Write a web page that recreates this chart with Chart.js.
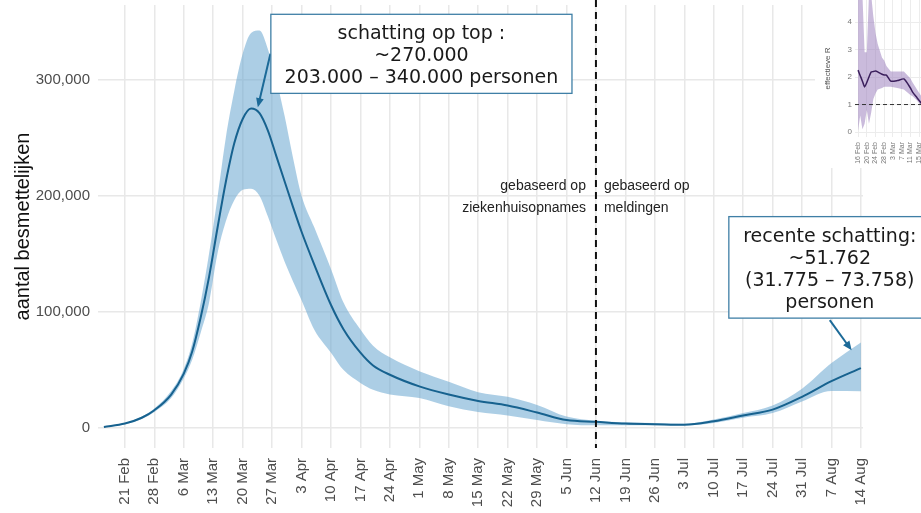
<!DOCTYPE html>
<html>
<head>
<meta charset="utf-8">
<script src="https://cdn.jsdelivr.net/npm/chart.js@4.4.1/dist/chart.umd.min.js"></script>
<style>
html, body { margin: 0; padding: 0; background: #fff; overflow: hidden; }
#wrap { position: relative; width: 921px; height: 513px; overflow: hidden; }
#hoofd { position: absolute; left: 0; top: 0; width: 921px; height: 513px; }
#klein { position: absolute; left: 815px; top: 0; width: 150px; height: 168px; background: #fff; }
</style>
</head>
<body>
<div id="wrap">
  <div id="hoofd"><canvas id="hoofdgrafiek"></canvas></div>
  <div id="klein"><canvas id="rgrafiek"></canvas></div>
</div>
<script>
// Data hoofdgrafiek: geschat aantal besmettelijke personen (2020)

var datums = ['2020-02-16','2020-02-21','2020-02-25','2020-02-28','2020-03-03','2020-03-06','2020-03-08',
  '2020-03-10','2020-03-12','2020-03-14','2020-03-16','2020-03-18','2020-03-20','2020-03-22','2020-03-24',
  '2020-03-26','2020-03-28','2020-03-30','2020-04-01','2020-04-03','2020-04-06','2020-04-10','2020-04-13',
  '2020-04-17','2020-04-20','2020-04-24','2020-05-01','2020-05-08','2020-05-15','2020-05-22','2020-05-29',
  '2020-06-05','2020-06-12','2020-06-19','2020-06-26','2020-07-03','2020-07-10','2020-07-17','2020-07-24',
  '2020-07-31','2020-08-07','2020-08-14'];
var schatting = [1000,4000,9000,15500,29000,47000,66000,95000,130000,172000,212000,245000,266000,275000,
  271000,256000,234000,212000,190000,169000,141000,106000,85000,65000,54000,46000,36000,29000,23500,19500,
  13500,7000,5500,4000,3500,3000,6000,11000,16000,27000,40500,51762];
var ondergrens = [800,3500,8000,14000,26000,43000,59000,82000,108000,150000,178000,196000,205000,206000,
  200000,182000,162000,143000,126000,110000,85000,65000,50000,39000,33000,29000,26000,19000,14000,11000,
  7000,3500,2500,2500,2500,2500,4500,9000,13000,23000,32000,31775];
var bovengrens = [1200,4500,10000,17000,32000,51000,73000,108000,150000,198000,250000,290000,322000,340000,
  342000,326000,300000,268000,232000,200000,173000,137000,108000,85000,71000,61000,49000,40000,31000,27000,
  20000,10000,6500,5000,4500,3800,7500,13000,19500,34000,56000,73758];

var weekLabels = ['21 Feb','28 Feb','6 Mar','13 Mar','20 Mar','27 Mar','3 Apr','10 Apr','17 Apr','24 Apr',
  '1 May','8 May','15 May','22 May','29 May','5 Jun','12 Jun','19 Jun','26 Jun','3 Jul','10 Jul','17 Jul',
  '24 Jul','31 Jul','7 Aug','14 Aug'];
var yWaarden = [0, 100000, 200000, 300000];
var scheiding = '2020-06-12';

// Data inzet: effectieve R
var rDagen = [0,1,2,3,4,5,6,7,8,9,11,12,13,15,18,21,24,25,27,29,31];
var rSchatting = [2.25,2.05,1.85,1.64,1.8,2.0,2.18,2.2,2.22,2.19,2.1,2.07,2.07,1.85,1.87,1.93,1.6,1.45,1.25,1.05,0.85];
var rBoven = [5,5,5,2.9,2.9,5,5,4.2,3.6,3.2,2.7,2.6,2.4,2.2,2.2,2.2,1.95,1.8,1.55,1.3,1.1];
var rOnder = [0.05,0.6,0.1,0.3,0.8,0.3,0.7,1.2,1.4,1.55,1.6,1.65,1.65,1.65,1.6,1.55,1.35,1.3,1.15,0.95,0.8];
var rLabels = ['16 Feb','20 Feb','24 Feb','28 Feb','3 Mar','7 Mar','11 Mar','15 Mar','19 Mar'];


Chart.defaults.font.family = "'Liberation Sans', Arial, sans-serif";
Chart.defaults.color = '#4d4d4d';

var start = Date.UTC(2020, 1, 21);
const dag = (s) => {
  var p = s.split('-');
  return (Date.UTC(+p[0], +p[1] - 1, +p[2]) - start) / 86400000;
};

const punten = (arr) => datums.map((d, i) => ({ x: dag(d), y: arr[i] }));

// vaste maat voor de as, zonder extra ruimte boven/onder
const vasteBreedte = (w) => (s) => { s.width = w; s.paddingTop = 0; s.paddingBottom = 0; };
const vasteHoogte = (h) => (s) => { s.height = h; s.paddingLeft = 0; s.paddingRight = 0; };

const pijl = (ctx, x1, y1, x2, y2, kleur) => {
  var hoek = Math.atan2(y2 - y1, x2 - x1);
  ctx.save();
  ctx.strokeStyle = kleur; ctx.fillStyle = kleur; ctx.lineWidth = 2;
  ctx.beginPath(); ctx.moveTo(x1, y1);
  ctx.lineTo(x2 - 6 * Math.cos(hoek), y2 - 6 * Math.sin(hoek)); ctx.stroke();
  ctx.beginPath(); ctx.moveTo(x2, y2);
  ctx.lineTo(x2 - 10 * Math.cos(hoek - 0.4), y2 - 10 * Math.sin(hoek - 0.4));
  ctx.lineTo(x2 - 10 * Math.cos(hoek + 0.4), y2 - 10 * Math.sin(hoek + 0.4));
  ctx.closePath(); ctx.fill();
  ctx.restore();
};

const tekstBlok = (ctx, sx, sy, x1, y1, x2, y2, regels) => {
  var l = sx.getPixelForValue(x1), r = sx.getPixelForValue(x2);
  var t = sy.getPixelForValue(y1), b = sy.getPixelForValue(y2);
  ctx.save();
  ctx.fillStyle = '#fff';
  ctx.fillRect(l, t, r - l, b - t);
  ctx.strokeStyle = '#3f7fa6'; ctx.lineWidth = 1.3;
  ctx.strokeRect(l, t, r - l, b - t);
  ctx.fillStyle = '#1a1a1a';
  ctx.font = "19px 'DejaVu Sans', Verdana, sans-serif";
  ctx.textAlign = 'center'; ctx.textBaseline = 'middle';
  regels.forEach((s, i) => ctx.fillText(s, (l + r) / 2, t + 20 + i * 22));
  ctx.restore();
};

// lijn bij 12 juni, teksten, kaders en pijlen
const aantekeningen = {
  id: 'aantekeningen',
  afterDatasetsDraw(chart) {
    var ctx = chart.ctx, sx = chart.scales.x, ca = chart.chartArea;
    var x = sx.getPixelForValue(dag(scheiding));
    ctx.save();
    ctx.strokeStyle = '#111'; ctx.lineWidth = 2; ctx.setLineDash([7, 5]);
    ctx.beginPath(); ctx.moveTo(x, 0); ctx.lineTo(x, ca.bottom); ctx.stroke();
    ctx.restore();
  },
  afterDraw(chart) {
    var ctx = chart.ctx, sx = chart.scales.x, sy = chart.scales.y;
    var x = sx.getPixelForValue(dag(scheiding));

    ctx.save();
    ctx.fillStyle = '#222';
    ctx.font = "14px 'Liberation Sans', Arial, sans-serif";
    ctx.textBaseline = 'middle';
    ctx.textAlign = 'right';
    ctx.fillText('gebaseerd op', x - 10, sy.getPixelForValue(208000));
    ctx.fillText('ziekenhuisopnames', x - 10, sy.getPixelForValue(189000));
    ctx.textAlign = 'left';
    ctx.fillText('gebaseerd op', x + 8, sy.getPixelForValue(208000));
    ctx.fillText('meldingen', x + 8, sy.getPixelForValue(189000));
    ctx.restore();

    var kleur = '#1c6a98';
    pijl(ctx, sx.getPixelForValue(34.6), sy.getPixelForValue(322000),
      sx.getPixelForValue(31.6), sy.getPixelForValue(276000), kleur);
    tekstBlok(ctx, sx, sy, 34.7, 356000, 106.3, 288000,
      ['schatting op top :', '~270.000', '203.000 \u2013 340.000 personen']);

    pijl(ctx, sx.getPixelForValue(167.6), sy.getPixelForValue(93000),
      sx.getPixelForValue(172.8), sy.getPixelForValue(67000), kleur);
    tekstBlok(ctx, sx, sy, 143.6, 182000, 191.6, 94700,
      ['recente schatting:', '~51.762', '(31.775 \u2013 73.758)', 'personen']);
  }
};

const hoofd = new Chart(document.getElementById('hoofdgrafiek'), {
  type: 'line',
  data: {
    datasets: [
      {
        data: punten(schatting),
        borderColor: '#17628f',
        borderWidth: 2,
        pointRadius: 0,
        cubicInterpolationMode: 'monotone',
        fill: false
      },
      {
        data: punten(bovengrens),
        borderWidth: 0,
        borderColor: 'rgba(0,0,0,0)',
        pointRadius: 0,
        cubicInterpolationMode: 'monotone',
        backgroundColor: 'rgba(104,166,208,0.55)',
        fill: '+1'
      },
      {
        data: punten(ondergrens),
        borderWidth: 0,
        borderColor: 'rgba(0,0,0,0)',
        pointRadius: 0,
        cubicInterpolationMode: 'monotone',
        fill: false
      }
    ]
  },
  options: {
    responsive: true,
    maintainAspectRatio: false,
    animation: false,
    events: [],
    layout: { padding: { left: 0, top: 5, right: 58, bottom: 0 } },
    plugins: { legend: { display: false }, tooltip: { enabled: false } },
    scales: {
      x: {
        type: 'linear',
        min: -6.4,
        max: 175.5,
        afterFit: vasteHoogte(65),
        afterBuildTicks: (s) => { s.ticks = weekLabels.map((l, i) => ({ value: i * 7 })); },
        grid: { color: '#e8e8e8', lineWidth: 1.5, drawTicks: false },
        border: { display: false },
        ticks: {
          autoSkip: false,
          minRotation: 90,
          maxRotation: 90,
          padding: 10,
          font: { size: 15 },
          color: '#4d4d4d',
          callback: (v) => weekLabels[Math.round(v / 7)]
        }
      },
      y: {
        min: -17000,
        max: 364000,
        afterFit: vasteBreedte(98),
        afterBuildTicks: (s) => { s.ticks = yWaarden.map((v) => ({ value: v })); },
        grid: { color: '#e8e8e8', lineWidth: 1.5, drawTicks: false },
        border: { display: false },
        ticks: {
          padding: 8,
          font: { size: 15 },
          color: '#4d4d4d',
          callback: (v) => v.toLocaleString('en-US')
        },
        title: {
          display: true,
          text: 'aantal besmettelijken',
          color: '#111',
          font: { size: 20 },
          padding: { top: 11, bottom: 0 }
        }
      }
    }
  },
  plugins: [aantekeningen]
});


// inzet met effectieve R
const rPunten = (arr) => rDagen.map((d, i) => ({ x: d, y: arr[i] }));

const eenLijn = {
  id: 'eenLijn',
  afterDatasetsDraw(chart) {
    var ctx = chart.ctx, sy = chart.scales.y, ca = chart.chartArea;
    var y = sy.getPixelForValue(1);
    ctx.save();
    ctx.strokeStyle = '#333'; ctx.lineWidth = 1; ctx.setLineDash([4, 3]);
    ctx.beginPath(); ctx.moveTo(ca.left, y); ctx.lineTo(ca.right, y); ctx.stroke();
    ctx.restore();
  }
};

const inzet = new Chart(document.getElementById('rgrafiek'), {
  type: 'line',
  data: {
    datasets: [
      {
        data: rPunten(rSchatting),
        borderColor: '#3b1f5c',
        borderWidth: 1.5,
        pointRadius: 0,
        tension: 0.2,
        fill: false
      },
      {
        data: rPunten(rBoven),
        borderWidth: 0,
        borderColor: 'rgba(0,0,0,0)',
        pointRadius: 0,
        backgroundColor: 'rgba(150,120,185,0.5)',
        fill: '+1'
      },
      {
        data: rPunten(rOnder),
        borderWidth: 0,
        borderColor: 'rgba(0,0,0,0)',
        pointRadius: 0,
        fill: false
      }
    ]
  },
  options: {
    responsive: true,
    maintainAspectRatio: false,
    animation: false,
    events: [],
    layout: { padding: 0 },
    plugins: { legend: { display: false }, tooltip: { enabled: false } },
    scales: {
      x: {
        type: 'linear',
        min: -1.4,
        max: 49,
        afterFit: vasteHoogte(31),
        afterBuildTicks: (s) => { s.ticks = rLabels.map((l, i) => ({ value: i * 4 })); },
        grid: { color: '#ececec', lineWidth: 1, drawTicks: false },
        border: { display: false },
        ticks: {
          autoSkip: false,
          minRotation: 90,
          maxRotation: 90,
          padding: 5,
          font: { size: 7 },
          color: '#777',
          callback: (v) => rLabels[Math.round(v / 4)]
        }
      },
      y: {
        min: -0.18,
        max: 4.8,
        afterFit: vasteBreedte(40),
        afterBuildTicks: (s) => { s.ticks = [0, 1, 2, 3, 4].map((v) => ({ value: v })); },
        grid: { color: '#ececec', lineWidth: 1, drawTicks: false },
        border: { display: false },
        ticks: { padding: 3, font: { size: 8 }, color: '#777' },
        title: {
          display: true,
          text: 'effectieve R',
          color: '#555',
          font: { size: 8 },
          padding: { top: 8, bottom: 0 }
        }
      }
    }
  },
  plugins: [eenLijn]
});
</script>
</body>
</html>
